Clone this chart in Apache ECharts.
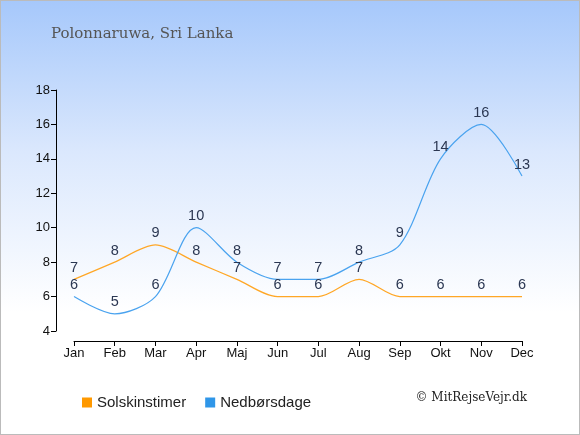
<!DOCTYPE html>
<html><head><meta charset="utf-8">
<script src="https://cdn.jsdelivr.net/npm/echarts@6/dist/echarts.min.js"></script>
<style>html,body{margin:0;padding:0;}#c{width:580px;height:435px;box-sizing:border-box;border:1px solid #bbb;background:linear-gradient(to bottom,#a6c8fb 0%,#dbe8fd 35%,#ffffff 72%,#ffffff 100%);}</style>
</head><body><div id="c"></div>
<script>
const months = ['Jan','Feb','Mar','Apr','Maj','Jun','Jul','Aug','Sep','Okt','Nov','Dec'];
const solskinstimer = [7,8,9,8,7,6,6,7,6,6,6,6];
const nedboersdage = [6,5,6,10,8,7,7,8,9,14,16,13];
const yTicks = {min:4, max:18, interval:2};
const chart = echarts.init(document.getElementById('c'), null, {renderer:'canvas'});
const lbl = {show:true, position:'top', distance:4, color:'#2b3752', fontSize:14.5, fontFamily:'Liberation Sans, Arial'};
chart.setOption({
  backgroundColor:'transparent',
  animation:false,
  title:{text:'Polonnaruwa, Sri Lanka', left:45, top:21, textStyle:{fontFamily:'DejaVu Serif', fontWeight:'normal', fontSize:15, color:'#555'}},
  grid:{left:73, right:57, top:89, bottom:103},
  legend:{left:76, top:389, itemWidth:10, itemHeight:10, itemGap:19, icon:'rect',
    textStyle:{fontSize:15, color:'#222', fontFamily:'Liberation Sans, Arial'},
    data:[{name:'Solskinstimer', itemStyle:{color:'#ff9900', opacity:1}},{name:'Nedbørsdage', itemStyle:{color:'#2f96e8', opacity:1}}]},
  graphic:[{type:'text', right:52, top:391, style:{text:'© MitRejseVejr.dk', font:'12px "DejaVu Serif"', fill:'#222'}}],
  xAxis:{type:'category', data:months, boundaryGap:false, offset:10,
    axisLine:{lineStyle:{color:'#000', width:1}}, axisTick:{alignWithLabel:true, length:5, lineStyle:{color:'#000'}},
    axisLabel:{color:'#111', fontSize:13, fontFamily:'Liberation Sans, Arial', margin:6}},
  yAxis:{type:'value', min:yTicks.min, max:yTicks.max, interval:yTicks.interval, offset:18,
    axisLine:{show:true, lineStyle:{color:'#000'}}, axisTick:{show:true, length:5, lineStyle:{color:'#000'}},
    splitLine:{show:false}, axisLabel:{color:'#111', fontSize:13, fontFamily:'Liberation Sans, Arial', margin:6}},
  series:[
    {name:'Solskinstimer', type:'line', smooth:0.3, data:solskinstimer, symbol:'circle', symbolSize:0.1, showSymbol:true, lineStyle:{color:'#ffa726', width:1.2}, itemStyle:{color:'#ff9900'}, label:lbl},
    {name:'Nedbørsdage', type:'line', smooth:0.3, data:nedboersdage, symbol:'circle', symbolSize:0.1, showSymbol:true, lineStyle:{color:'#4aa3ef', width:1.2}, itemStyle:{color:'#2f96e8'}, label:lbl}
  ]
});
</script></body></html>
